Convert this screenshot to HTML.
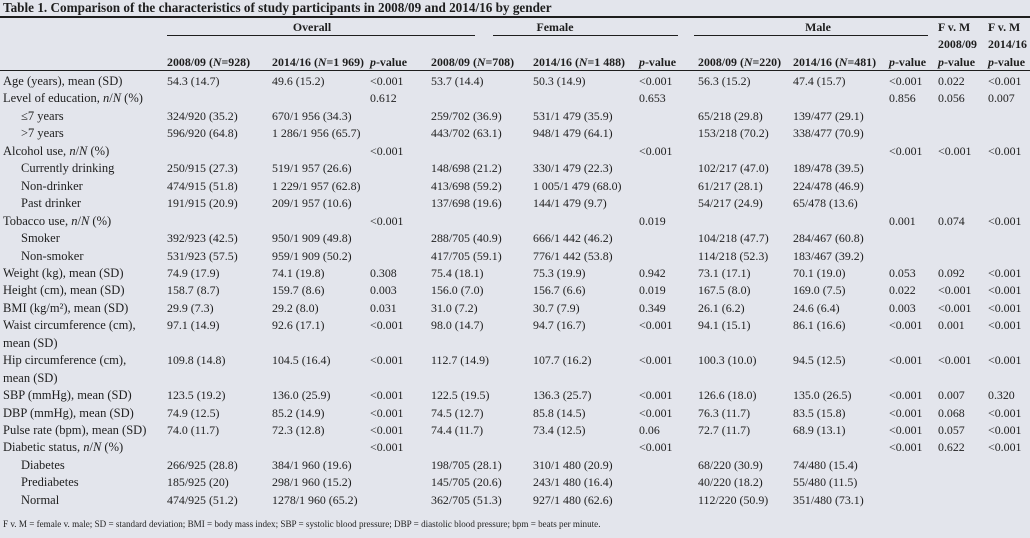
<!DOCTYPE html>
<html><head><meta charset="utf-8">
<style>
body{margin:0;background:#e3e5ec;}
#t{position:relative;width:1030px;height:538px;background:#e3e5ec;font-family:"Liberation Serif",serif;color:#1e1e1e;font-size:11.9px;overflow:hidden}
.a{position:absolute;white-space:nowrap;line-height:13px}
.b{font-weight:bold}
.ln{position:absolute;background:#1e1e1e}
.lab{font-size:12.5px}
</style></head><body>
<div id="t">
<div class="a b" style="left:3px;top:0px;font-size:13.2px;line-height:15px">Table 1. Comparison of the characteristics of study participants in 2008/09 and 2014/16 by gender</div>
<div class="ln" style="left:0;top:16px;width:1030px;height:2px"></div>
<div class="a b" style="left:312px;top:21px;transform:translateX(-50%)">Overall</div>
<div class="a b" style="left:555px;top:21px;transform:translateX(-50%)">Female</div>
<div class="a b" style="left:818px;top:21px;transform:translateX(-50%)">Male</div>
<div class="ln" style="left:167px;top:35px;width:308px;height:1px"></div>
<div class="ln" style="left:493px;top:35px;width:185px;height:1px"></div>
<div class="ln" style="left:694px;top:35px;width:234px;height:1px"></div>
<div class="a b" style="left:938px;top:21px">F v. M</div>
<div class="a b" style="left:988px;top:21px">F v. M</div>
<div class="a b" style="left:938px;top:38px">2008/09</div>
<div class="a b" style="left:988px;top:38px">2014/16</div>
<div class="ln" style="left:0;top:70px;width:1030px;height:1px"></div>
<div class="a" style="left:3px;top:518px;font-size:9.1px">F v. M = female v. male; SD = standard deviation; BMI = body mass index; SBP = systolic blood pressure; DBP = diastolic blood pressure; bpm = beats per minute.</div>
</div>
<script>
const cols=[167,272,370,431,533,639,698,793,889,938,988];
const heads=['2008/09 (<i>N</i>=928)','2014/16 (<i>N</i>=1 969)','<i>p</i>-value','2008/09 (<i>N</i>=708)','2014/16 (<i>N</i>=1 488)','<i>p</i>-value','2008/09 (<i>N</i>=220)','2014/16 (<i>N</i>=481)','<i>p</i>-value','<i>p</i>-value','<i>p</i>-value'];
const rows=[
['Age (years), mean (SD)',0,'54.3 (14.7)','49.6 (15.2)','<0.001','53.7 (14.4)','50.3 (14.9)','<0.001','56.3 (15.2)','47.4 (15.7)','<0.001','0.022','<0.001'],
['Level of education, <i>n</i>/<i>N</i> (%)',0,'','','0.612','','','0.653','','','0.856','0.056','0.007'],
['≤7 years',1,'324/920 (35.2)','670/1 956 (34.3)','','259/702 (36.9)','531/1 479 (35.9)','','65/218 (29.8)','139/477 (29.1)','','',''],
['&gt;7 years',1,'596/920 (64.8)','1 286/1 956 (65.7)','','443/702 (63.1)','948/1 479 (64.1)','','153/218 (70.2)','338/477 (70.9)','','',''],
['Alcohol use, <i>n</i>/<i>N</i> (%)',0,'','','<0.001','','','<0.001','','','<0.001','<0.001','<0.001'],
['Currently drinking',1,'250/915 (27.3)','519/1 957 (26.6)','','148/698 (21.2)','330/1 479 (22.3)','','102/217 (47.0)','189/478 (39.5)','','',''],
['Non-drinker',1,'474/915 (51.8)','1 229/1 957 (62.8)','','413/698 (59.2)','1 005/1 479 (68.0)','','61/217 (28.1)','224/478 (46.9)','','',''],
['Past drinker',1,'191/915 (20.9)','209/1 957 (10.6)','','137/698 (19.6)','144/1 479 (9.7)','','54/217 (24.9)','65/478 (13.6)','','',''],
['Tobacco use, <i>n</i>/<i>N</i> (%)',0,'','','<0.001','','','0.019','','','0.001','0.074','<0.001'],
['Smoker',1,'392/923 (42.5)','950/1 909 (49.8)','','288/705 (40.9)','666/1 442 (46.2)','','104/218 (47.7)','284/467 (60.8)','','',''],
['Non-smoker',1,'531/923 (57.5)','959/1 909 (50.2)','','417/705 (59.1)','776/1 442 (53.8)','','114/218 (52.3)','183/467 (39.2)','','',''],
['Weight (kg), mean (SD)',0,'74.9 (17.9)','74.1 (19.8)','0.308','75.4 (18.1)','75.3 (19.9)','0.942','73.1 (17.1)','70.1 (19.0)','0.053','0.092','<0.001'],
['Height (cm), mean (SD)',0,'158.7 (8.7)','159.7 (8.6)','0.003','156.0 (7.0)','156.7 (6.6)','0.019','167.5 (8.0)','169.0 (7.5)','0.022','<0.001','<0.001'],
['BMI (kg/m²), mean (SD)',0,'29.9 (7.3)','29.2 (8.0)','0.031','31.0 (7.2)','30.7 (7.9)','0.349','26.1 (6.2)','24.6 (6.4)','0.003','<0.001','<0.001'],
['Waist circumference (cm),<br>mean (SD)',2,'97.1 (14.9)','92.6 (17.1)','<0.001','98.0 (14.7)','94.7 (16.7)','<0.001','94.1 (15.1)','86.1 (16.6)','<0.001','0.001','<0.001'],
['Hip circumference (cm),<br>mean (SD)',2,'109.8 (14.8)','104.5 (16.4)','<0.001','112.7 (14.9)','107.7 (16.2)','<0.001','100.3 (10.0)','94.5 (12.5)','<0.001','<0.001','<0.001'],
['SBP (mmHg), mean (SD)',0,'123.5 (19.2)','136.0 (25.9)','<0.001','122.5 (19.5)','136.3 (25.7)','<0.001','126.6 (18.0)','135.0 (26.5)','<0.001','0.007','0.320'],
['DBP (mmHg), mean (SD)',0,'74.9 (12.5)','85.2 (14.9)','<0.001','74.5 (12.7)','85.8 (14.5)','<0.001','76.3 (11.7)','83.5 (15.8)','<0.001','0.068','<0.001'],
['Pulse rate (bpm), mean (SD)',0,'74.0 (11.7)','72.3 (12.8)','<0.001','74.4 (11.7)','73.4 (12.5)','0.06','72.7 (11.7)','68.9 (13.1)','<0.001','0.057','<0.001'],
['Diabetic status, <i>n</i>/<i>N</i> (%)',0,'','','<0.001','','','<0.001','','','<0.001','0.622','<0.001'],
['Diabetes',1,'266/925 (28.8)','384/1 960 (19.6)','','198/705 (28.1)','310/1 480 (20.9)','','68/220 (30.9)','74/480 (15.4)','','',''],
['Prediabetes',1,'185/925 (20)','298/1 960 (15.2)','','145/705 (20.6)','243/1 480 (16.4)','','40/220 (18.2)','55/480 (11.5)','','',''],
['Normal',1,'474/925 (51.2)','1278/1 960 (65.2)','','362/705 (51.3)','927/1 480 (62.6)','','112/220 (50.9)','351/480 (73.1)','','','']
];
const T=document.getElementById('t');
function esc(s){return s.replace(/</g,'&lt;');}
heads.forEach((h,i)=>{
  const d=document.createElement('div');
  d.className='a b';
  d.style.left=cols[i]+'px';d.style.top='56px';
  d.innerHTML=h;
  
  
  T.appendChild(d);
});
let y=73;
rows.forEach(r=>{
  const lab=document.createElement('div');
  lab.className='a lab';
  lab.style.left=(r[1]===1?21:3)+'px';lab.style.top=y+'px';
  lab.style.lineHeight='17.4px';
  lab.innerHTML=r[0];
  
  
  T.appendChild(lab);
  for(let i=0;i<11;i++){
    const v=r[i+2]; if(!v) continue;
    const c=document.createElement('div');
    c.className='a';
    c.style.left=cols[i]+'px';c.style.top=(y+2)+'px';
    c.innerHTML=esc(v);
    
    
    T.appendChild(c);
  }
  y+= r[1]===2?34.9:17.45;
});
</script>
</body></html>
